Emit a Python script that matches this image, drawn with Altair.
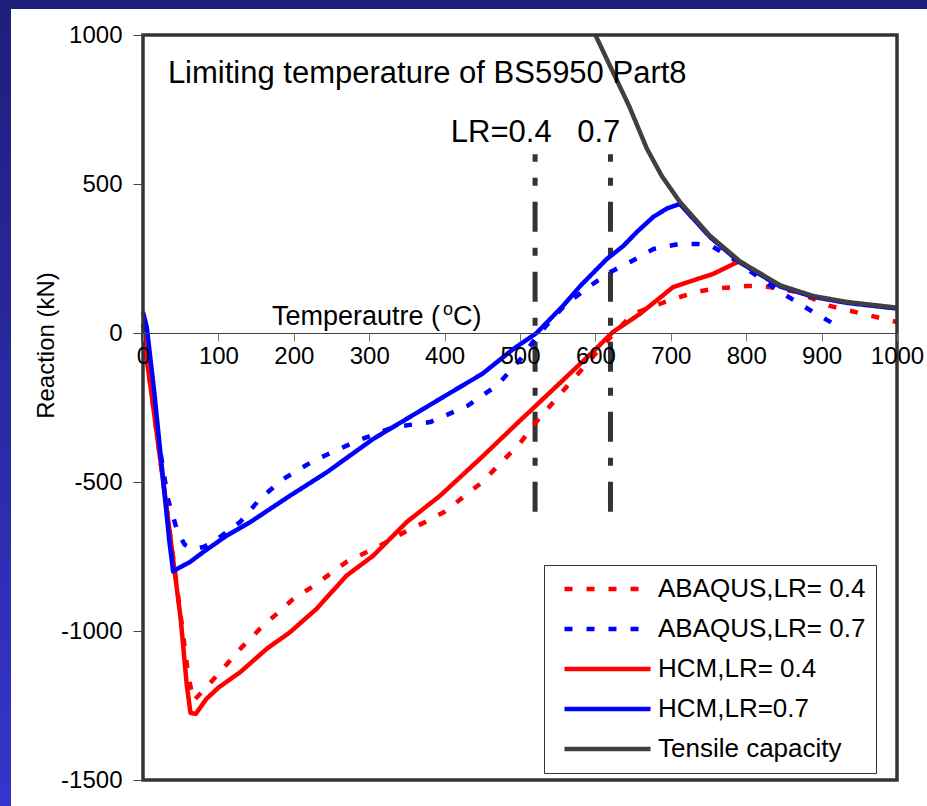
import altair as alt
import pandas as pd

# ---------------- data (temperature in degC, reaction in kN) ----------------
abaqus04_t = [0, 10, 30, 50, 60, 67, 80, 102, 129, 155, 199, 226, 270, 314, 350, 377, 400, 450, 500, 521, 550, 600, 625, 650, 703, 735, 756, 801, 822, 867, 911, 955, 1000]
abaqus04_r = [0, -180, -560, -950, -1150, -1234, -1200, -1138, -1060, -993, -893, -849, -768, -714, -664, -631, -600, -500, -370, -300, -215, -70, 0, 64, 114, 138, 148, 158, 158, 138, 91, 64, 37]

abaqus07_t = [0, 10, 20, 33, 45, 55, 67, 80, 93, 129, 155, 186, 226, 284, 332, 381, 430, 470, 500, 520, 540, 560, 593, 620, 646, 677, 712, 735, 756, 783, 801, 845, 889, 920]
abaqus07_r = [30, -150, -350, -557, -660, -710, -725, -718, -701, -634, -557, -490, -429, -362, -316, -299, -245, -175, -90, -20, 40, 95, 158, 205, 238, 282, 299, 299, 289, 248, 215, 138, 70, 25]

hcm04_t = [0, 10, 30, 50, 58, 63, 70, 84, 100, 129, 164, 195, 230, 270, 305, 350, 394, 450, 500, 550, 600, 623, 659, 703, 735, 756, 790]
hcm04_r = [0, -180, -560, -960, -1180, -1275, -1278, -1228, -1190, -1138, -1060, -1004, -926, -814, -748, -634, -546, -415, -294, -175, -55, 3, 64, 154, 181, 198, 240]

hcm07_t = [0, 5, 15, 25, 35, 40, 50, 62, 80, 111, 142, 195, 244, 305, 394, 450, 491, 522, 557, 580, 615, 637, 655, 677, 695, 712, 752, 792, 845, 889, 934, 1000]
hcm07_r = [70, 20, -200, -450, -700, -800, -785, -769, -735, -680, -635, -546, -467, -356, -221, -137, -54, 0, 91, 158, 248, 292, 339, 390, 418, 433, 322, 236, 156, 121, 101, 82]

capacity_t = [600, 620, 645, 668, 688, 712, 752, 792, 845, 889, 934, 1000]
capacity_r = [1000, 893, 760, 620, 527, 440, 326, 240, 160, 124, 104, 85]

limit_t = [520, 620]
limit_lo = [-600, -600]
limit_hi = [600, 600]

series_names = ["ABAQUS,LR= 0.4", "ABAQUS,LR= 0.7", "HCM,LR= 0.4", "HCM,LR=0.7", "Tensile capacity"]
series_colors = ["#ff0000", "#0000ff", "#ff0000", "#0000ff", "#404040"]
series_dash = [[8, 14], [8, 14], [1, 0], [1, 0], [1, 0]]
series_width = [4.5, 4.5, 3.5, 3.5, 4.5]

x_ticks = list(range(0, 1001, 100))
y_ticks = [-1500, -1000, -500, 0, 500, 1000]

FONT = "Liberation Sans"

# ---------------- tables ----------------
rows = []
for name, ts, rs in zip(series_names,
                        [abaqus04_t, abaqus07_t, hcm04_t, hcm07_t, capacity_t],
                        [abaqus04_r, abaqus07_r, hcm04_r, hcm07_r, capacity_r]):
    for t, r in zip(ts, rs):
        rows.append({"series": name, "T": t, "R": r})
lines_df = pd.DataFrame(rows)

limits_df = pd.DataFrame({"T": limit_t, "lo": limit_lo, "hi": limit_hi})

W, H = 754, 745
Y_MIN, Y_MAX = -1500, 1000
zero_from_bottom = H * (0 - Y_MIN) / (Y_MAX - Y_MIN)   # pixel distance of R=0 above the bottom edge

xscale = alt.Scale(domain=[0, 1000], nice=False, zero=False)
yscale = alt.Scale(domain=[Y_MIN, Y_MAX], nice=False, zero=False)

one = alt.Data(values=[{}])

bg = alt.Chart(one).mark_rect(
    fill=alt.Gradient(gradient="linear",
                      stops=[alt.GradientStop(color="#1e1e7c", offset=0),
                             alt.GradientStop(color="#3535cc", offset=1)],
                      x1=0, x2=0, y1=0, y2=1),
).encode(x=alt.value(-143), x2=alt.value(927 - 143), y=alt.value(-35), y2=alt.value(806 - 35))

panel = alt.Chart(one).mark_rect(fill="white").encode(
    x=alt.value(11 - 143), x2=alt.value(927 - 143), y=alt.value(9 - 35), y2=alt.value(806 - 35))

rules = alt.Chart(limits_df).mark_rule(color="#333333", strokeWidth=5, strokeDash=[30, 16, 8, 16]).encode(
    x=alt.X("T:Q", scale=xscale), y=alt.Y("lo:Q", scale=yscale), y2="hi:Q")

legend_def = alt.Legend(title=None, orient="none", legendX=401, legendY=530,
                        symbolType="stroke", symbolSize=86 * 86, symbolStrokeWidth=4,
                        clipHeight=28, rowPadding=12, padding=10, symbolOffset=8,
                        labelOffset=5, labelFontSize=26, labelFont=FONT,
                        labelColor="black", fillColor="white", strokeColor="#333333",
                        labelLimit=400, zindex=2)

lines = alt.Chart(lines_df).mark_line(strokeCap="butt", strokeJoin="round").encode(
    x=alt.X("T:Q", scale=xscale,
            axis=alt.Axis(values=x_ticks, title=None, offset=-zero_from_bottom,
                          labelExpr="'' + datum.value",
                          labelFontSize=24, labelFont=FONT, labelColor="black", labelFlush=False,
                          labelOverlap=False, tickSize=8, tickColor="#777777", labelPadding=3,
                          domainColor="#444444", domainWidth=1, grid=False, zindex=1)),
    y=alt.Y("R:Q", scale=yscale,
            axis=alt.Axis(values=y_ticks, title="Reaction (kN)", titleFontSize=24, titleFont=FONT,
                          titleFontWeight="normal", titleColor="black", titleX=-97, titleY=310,
                          titleBaseline="middle", titleAlign="center", titleAngle=-90,
                          labelExpr="'' + datum.value",
                          labelFontSize=24, labelFont=FONT, labelColor="black", labelFlush=False,
                          tickSize=10, tickColor="#444444", labelPadding=11, domain=False,
                          grid=False, zindex=1)),
    color=alt.Color("series:N", scale=alt.Scale(domain=series_names, range=series_colors), legend=legend_def),
    strokeDash=alt.StrokeDash("series:N", scale=alt.Scale(domain=series_names, range=series_dash), legend=legend_def),
    strokeWidth=alt.StrokeWidth("series:N", scale=alt.Scale(domain=series_names, range=series_width), legend=None),
)

# text annotations (anchored in data coordinates)
title_txt = alt.Chart(pd.DataFrame({"T": [33], "R": [839], "s": ["Limiting temperature of BS5950 Part8"]})).mark_text(
    align="left", baseline="alphabetic", fontSize=31, font=FONT, color="black").encode(
    x=alt.X("T:Q", scale=xscale), y=alt.Y("R:Q", scale=yscale), text="s:N")

lr_txt = alt.Chart(pd.DataFrame({"T": [542, 633], "R": [641, 641], "s": ["LR=0.4", "0.7"]})).mark_text(
    align="right", baseline="alphabetic", fontSize=31, font=FONT, color="black").encode(
    x=alt.X("T:Q", scale=xscale), y=alt.Y("R:Q", scale=yscale), text="s:N")

xt_df = pd.DataFrame({"T": [171], "R": [27]})
xt1 = alt.Chart(xt_df).mark_text(align="left", baseline="alphabetic", fontSize=27, font=FONT, color="black").encode(
    x=alt.X("T:Q", scale=xscale), y=alt.Y("R:Q", scale=yscale), text=alt.value("Temperautre ("))
xt2 = alt.Chart(xt_df).mark_text(align="left", baseline="alphabetic", fontSize=18, font=FONT, color="black",
                                 dx=171, dy=-10).encode(
    x=alt.X("T:Q", scale=xscale), y=alt.Y("R:Q", scale=yscale), text=alt.value("o"))
xt3 = alt.Chart(xt_df).mark_text(align="left", baseline="alphabetic", fontSize=27, font=FONT, color="black",
                                 dx=181).encode(
    x=alt.X("T:Q", scale=xscale), y=alt.Y("R:Q", scale=yscale), text=alt.value("C)"))

frame = alt.Chart(one).mark_rect(filled=False, stroke="#333333", strokeWidth=3.5).encode(
    x=alt.value(0), x2=alt.value(W), y=alt.value(0), y2=alt.value(H))

chart = alt.layer(bg, panel, rules, lines, title_txt, lr_txt, xt1, xt2, xt3, frame).properties(
    width=W, height=H, padding=0
).configure_view(stroke=None).configure(font=FONT)

chart.save("out.html", embed_options={"renderer": "svg", "actions": False})
